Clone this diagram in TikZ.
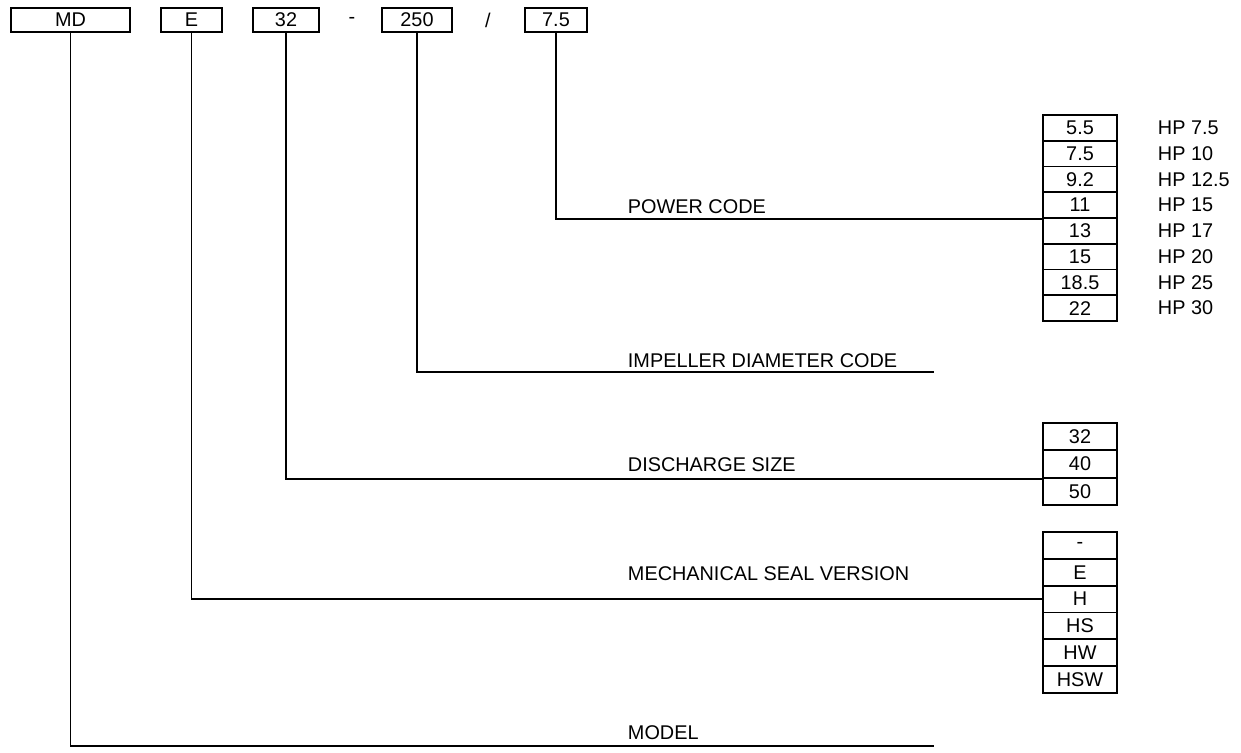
\documentclass[tikz,border=0pt]{standalone}
\usepackage{fontspec}
\setmainfont{Liberation Sans}
\begin{document}
\begin{tikzpicture}[x=0.02cm, y=-0.02cm, line width=1.1pt,
    every node/.style={font=\fontsize{11.3}{13}\selectfont, inner sep=0pt},
    codebox/.style={draw, minimum height=0.48cm},
    pcell/.style={draw, minimum width=1.48cm, minimum height=0.515cm},
    dcell/.style={draw, minimum width=1.48cm, minimum height=0.547cm},
    mcell/.style={draw, minimum width=1.48cm, minimum height=0.537cm}]
    \useasboundingbox (0,0) rectangle (1241,753);
    % code boxes on top
    \node[codebox, minimum width=2.38cm] (md) at (70.5,20) {MD};
    \node[codebox, minimum width=1.22cm] (seal) at (191.5,20) {E};
    \node[codebox, minimum width=1.32cm] (dis) at (286,20) {32};
    \node (dash) at (352,20) {-};
    \node[codebox, minimum width=1.4cm] (imp) at (417,20) {250};
    \node (slash) at (488,20) {/};
    \node[codebox, minimum width=1.24cm] (pow) at (556,20) {7.5};
    % power code
    \node[pcell] (p1) at (1080,127.9) {5.5};
    \node[pcell] (p2) at (1080,153.6) {7.5};
    \node[pcell] (p3) at (1080,179.4) {9.2};
    \node[pcell] (p4) at (1080,205.1) {11};
    \node[pcell] (p5) at (1080,230.9) {13};
    \node[pcell] (p6) at (1080,256.6) {15};
    \node[pcell] (p7) at (1080,282.4) {18.5};
    \node[pcell] (p8) at (1080,308.1) {22};
    \node[anchor=west] (hp1) at (1157,127.9) {HP 7.5};
    \node[anchor=west] (hp2) at (1157,153.6) {HP 10};
    \node[anchor=west] (hp3) at (1157,179.4) {HP 12.5};
    \node[anchor=west] (hp4) at (1157,205.1) {HP 15};
    \node[anchor=west] (hp5) at (1157,230.9) {HP 17};
    \node[anchor=west] (hp6) at (1157,256.6) {HP 20};
    \node[anchor=west] (hp7) at (1157,282.4) {HP 25};
    \node[anchor=west] (hp8) at (1157,308.1) {HP 30};
    % discharge size
    \node[dcell] (d1) at (1080,436.7) {32};
    \node[dcell] (d2) at (1080,464) {40};
    \node[dcell] (d3) at (1080,491.3) {50};
    % mechanical seal
    \node[mcell] (m1) at (1080,545.4) {-};
    \node[mcell] (m2) at (1080,572.2) {E};
    \node[mcell] (m3) at (1080,599.1) {H};
    \node[mcell] (m4) at (1080,625.9) {HS};
    \node[mcell] (m5) at (1080,652.7) {HW};
    \node[mcell] (m6) at (1080,679.6) {HSW};
    % labels
    \node[anchor=west] (powlbl) at (627,207) {POWER CODE};
    \node[anchor=west] (implbl) at (627,361) {IMPELLER DIAMETER CODE};
    \node[anchor=west] (dislbl) at (627,465) {DISCHARGE SIZE};
    \node[anchor=west] (seallbl) at (627,574) {MECHANICAL SEAL VERSION};
    \node[anchor=west] (mdlbl) at (627,733) {MODEL};
    \coordinate (impend) at (934,372);
    \coordinate (mdend) at (934,746);
    % leader lines
    \draw (pow.south) |- (p4.south west);
    \draw (imp.south) |- (impend);
    \draw (dis.south) |- (d2.south west);
    \draw (seal.south) |- (m3.west);
    \draw (md.south) |- (mdend);
\end{tikzpicture}
\end{document}
